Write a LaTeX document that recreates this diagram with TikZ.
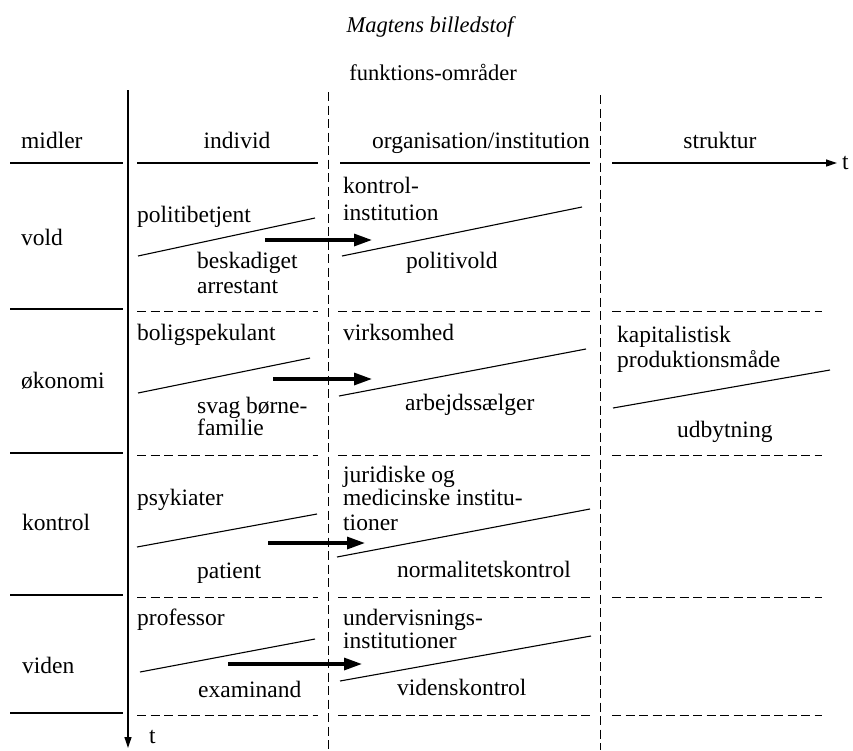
\documentclass[tikz,border=0pt]{standalone}
\usepackage{fontspec}
\setmainfont{Liberation Serif}
\usetikzlibrary{arrows.meta}
\begin{document}
\begin{tikzpicture}[x=1pt,y=-1pt,
  lt/.style={anchor=base west,inner sep=0pt,font=\fontsize{23.5}{27}\selectfont},
  ct/.style={anchor=base,inner sep=0pt,font=\fontsize{23.5}{27}\selectfont},
  rule/.style={line width=1.1pt},
  dsh/.style={line width=1pt,dash pattern=on 9pt off 4.5pt},
  diag/.style={line width=1.1pt},
  flow/.style={line width=3.2pt,-{Triangle[length=18pt,width=12pt]}},
  axis/.style={line width=1.2pt,-{Triangle[length=11pt,width=7pt]}}]
\useasboundingbox (0,0) rectangle (853,750);

% titles
\node[ct,font=\fontsize{22.5}{27}\selectfont\itshape] (title) at (430,32) {Magtens billedstof};
\node[ct,font=\fontsize{22.5}{27}\selectfont] (funk) at (433,80) {funktions-områder};

% vertical axes
\coordinate (vtop) at (128,90);
\coordinate (vbot) at (128,748);
\draw[axis] (vtop) -- (vbot);
\node[lt] (tb) at (149,743) {t};
\coordinate (d1top) at (328,92);
\coordinate (d1bot) at (328,750);
\draw[dsh] (d1top) -- (d1bot);
\coordinate (d2top) at (600,95);
\coordinate (d2bot) at (600,750);
\draw[dsh] (d2top) -- (d2bot);

% headers
\node[lt] (hmid) at (21,148) {midler};
\node[ct] (hind) at (237,148) {individ};
\node[ct] (horg) at (481,148) {organisation/institution};
\node[ct] (hstr) at (720,148) {struktur};

% header line
\draw[rule] (10,163) -- (123,163);
\draw[rule] (137,163) -- (318,163);
\draw[rule] (340,163) -- (590,163);
\coordinate (hs) at (612,163);
\coordinate (he) at (837,163);
\draw[axis] (hs) -- (he);
\node[lt] (tr) at (842,169) {t};

% row separators
\foreach \y/\d in {309/311,453/455,595/597,713/715}{
  \draw[rule] (10,\y) -- (123,\y);
  \draw[dsh] (137,\d) -- (318,\d);
  \draw[dsh] (338,\d) -- (590,\d);
  \draw[dsh] (612,\d) -- (822,\d);
}

% row 1: vold
\node[lt] (vold) at (21,245) {vold};
\node[lt] (pb) at (137,222) {politibetjent};
\node[lt] (besk) at (197,268) {beskadiget};
\node[lt] (arr) at (197,293) {arrestant};
\node[lt] (ki1) at (343,193) {kontrol-};
\node[lt] (ki2) at (343,220) {institution};
\node[lt] (pv) at (406,268) {politivold};
\draw[diag] (138,256) -- (315,218);
\draw[diag] (342,256) -- (582,207);
\coordinate (a1s) at (265,240);
\coordinate (a1e) at (372,240);
\draw[flow] (a1s) -- (a1e);

% row 2: okonomi
\node[lt] (oko) at (21,388) {økonomi};
\node[lt] (bs) at (137,340) {boligspekulant};
\node[lt] (sb1) at (197,413) {svag børne-};
\node[lt] (sb2) at (197,435) {familie};
\node[lt] (virk) at (343,340) {virksomhed};
\node[lt] (arb) at (405,410) {arbejdssælger};
\node[lt] (kap1) at (617,342) {kapitalistisk};
\node[lt] (kap2) at (617,367) {produktionsmåde};
\node[lt] (udb) at (677,437) {udbytning};
\draw[diag] (138,393) -- (310,358);
\draw[diag] (339,396) -- (586,349);
\draw[diag] (613,408) -- (830,370);
\coordinate (a2s) at (273,379);
\coordinate (a2e) at (372,379);
\draw[flow] (a2s) -- (a2e);

% row 3: kontrol
\node[lt] (kon) at (22,530) {kontrol};
\node[lt] (psy) at (137,505) {psykiater};
\node[lt] (pat) at (197,578) {patient};
\node[lt] (jur1) at (343,482) {juridiske og};
\node[lt] (jur2) at (343,505) {medicinske institu-};
\node[lt] (jur3) at (343,530) {tioner};
\node[lt] (norm) at (397,577) {normalitetskontrol};
\draw[diag] (137,547) -- (317,514);
\draw[diag] (337,557) -- (590,509);
\coordinate (a3s) at (268,543);
\coordinate (a3e) at (365,543);
\draw[flow] (a3s) -- (a3e);

% row 4: viden
\node[lt] (vid) at (22,673) {viden};
\node[lt] (prof) at (137,625) {professor};
\node[lt] (exa) at (198,697) {examinand};
\node[lt] (und1) at (343,625) {undervisnings-};
\node[lt] (und2) at (343,648) {institutioner};
\node[lt] (vk) at (397,695) {videnskontrol};
\draw[diag] (140,672) -- (315,639);
\draw[diag] (340,681) -- (591,636);
\coordinate (a4s) at (228,664);
\coordinate (a4e) at (362,664);
\draw[flow] (a4s) -- (a4e);
\end{tikzpicture}
\end{document}
